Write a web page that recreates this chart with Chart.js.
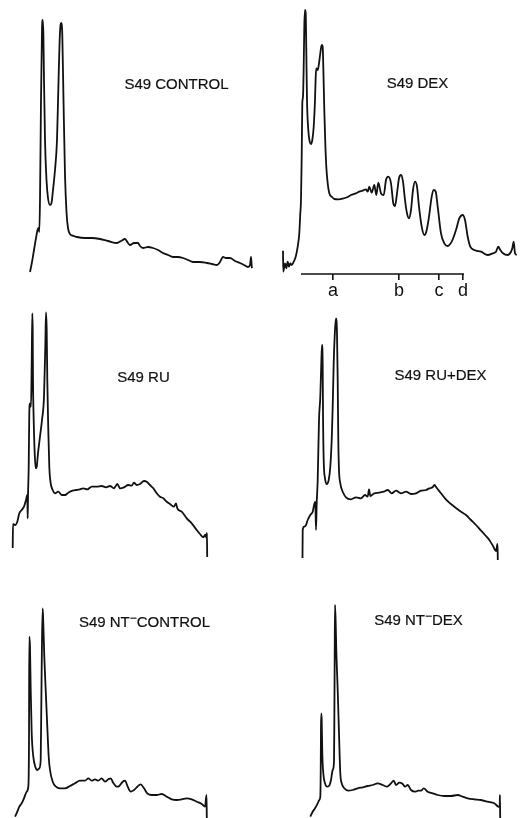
<!DOCTYPE html>
<html><head><meta charset="utf-8">
<script src="https://cdn.jsdelivr.net/npm/chart.js@4"></script>
<style>
html,body{margin:0;padding:0;background:#fff;}
#fig{position:relative;width:522px;height:818px;overflow:hidden;background:#fff;}
canvas{position:absolute;}
.lbl{position:absolute;width:220px;text-align:center;font-family:"Liberation Sans",Arial,sans-serif;font-size:15px;line-height:16px;color:#111;white-space:nowrap;-webkit-text-stroke:0.2px #111;}
.sup{position:relative;top:-5px;font-size:12px;}
</style></head><body><div id="fig"></div>
<script>
// Densitometric scans: [migration distance, absorbance] (arbitrary units)
const controlTrace = [[30,8],[32,18],[34,30],[36,42],[37.5,50],[38.5,52],[39.3,48],[40,80],[41,180],[42,250],[42.7,260],[43.4,245],[44,200],[45,140],[46.5,100],[48,82],[50,75],[51.5,77],[53,90],[55,110],[57,140],[58.3,190],[59.5,235],[60.5,255],[61.3,257],[62.3,245],[63.5,180],[65,105],[66.5,68],[68,52],[70,46],[74,44],[77,43],[85,42],[92,42],[100,41],[108,39],[117,37],[121,39],[125,41],[128,37],[130,35],[134,37],[138,37],[140,34],[143,32],[148,33],[153,32],[158,30],[163,27],[168,25],[173,23],[178,23],[183,22],[188,20],[193,18],[200,18],[207,17],[212,16],[217,15],[220,18],[223,23],[226,22],[230,22],[235,19],[240,17],[244,15],[248,13],[250,15],[251,23],[251.8,13],[252.3,12]];
const dexTrace = [[22,23.3],[22.3,2.3],[24,10.7],[25.3,5.7],[26.7,12.3],[28,7.3],[29.3,10.7],[30.7,9],[32.7,12.3],[34.7,17.3],[36.7,27.3],[38.3,40.7],[39.3,60.7],[40,74],[40.7,117.3],[41.3,170.7],[42,177.3],[42.7,207.3],[43.3,247.3],[44,264],[44.7,260.7],[45.3,224],[46,174],[47.3,144],[48.7,132.3],[50,130],[51.3,134],[52.7,147.3],[54,174],[54.7,197.3],[55.3,205.7],[56.7,204],[58,210.7],[59.3,220.7],[60.7,229],[61.7,227.3],[62.3,207.3],[63.3,164],[64.3,130.7],[65.3,107.3],[66.7,90.7],[68.3,80.7],[70.7,77.3],[73.3,75],[77.3,74.7],[81.7,75.3],[86,76.7],[90,79],[95,80.7],[98.3,82.3],[101.7,83.3],[105,84.7],[106.7,82.3],[108.3,87.3],[110.7,81.3],[113.3,89],[115.3,79],[117.3,91.3],[120,80.7],[122.7,79],[125,94],[127.3,97.3],[130,90.7],[132.3,70.7],[134,68],[136,80.7],[138,95.7],[140,99],[142,92.3],[144,74],[146,60.7],[148,55.7],[150,64],[152,84],[154,92.3],[156,87.3],[158,67.3],[160.7,47.3],[163.3,39],[165.3,42.3],[168,57.3],[170.7,77.3],[172.7,84],[174.7,82.3],[176.7,67.3],[180,40.7],[183.3,30.7],[186.7,28],[190.7,32.3],[195,44],[198.3,55.7],[201.7,59],[204,54],[206.7,37.3],[209.3,27.3],[213.3,24],[220,22.3],[226.7,19],[231.7,20.7],[235,22.3],[237.3,27.3],[239.3,24],[242,20.7],[246.7,19],[250,22.3],[251.3,25.7],[252.7,32.3],[254,20.7],[255.7,19]];
const ruTrace = [[12.7,12],[13,36],[15,35],[17.3,38.3],[19.3,46.7],[21.7,50],[24,53.3],[26,60],[27.3,65],[27.7,41.7],[28,63.3],[28.7,93.3],[29.3,146.7],[30,156.7],[31,153.3],[31.7,196.7],[32.3,246.7],[32.7,230],[33,180],[33.7,140],[34.7,106.7],[35.7,91.7],[36.7,93.3],[38,106.7],[40,123.3],[42,140],[44,163.3],[45.3,213.3],[46,247.7],[46.7,230],[47.3,180],[48.3,130],[49.3,93.3],[50.7,76.7],[52.7,70],[55,66.7],[58.3,68.3],[61.7,65],[65,65],[68.3,67.3],[72.7,69.3],[76.7,70],[80,70.7],[83.3,71.7],[87.3,70.7],[91.7,73.3],[96.7,73.3],[101.7,74],[106,72.7],[110,74],[114,71.7],[117.3,76],[120,71.7],[124,72.7],[128.3,75],[131.7,74.3],[134,77.3],[136.7,75],[140,76],[144,79],[146.7,78.3],[150,75],[153.3,71.7],[156.7,66.7],[160,63.3],[163.3,61.7],[166.7,58.3],[170,56],[174,53.3],[176,56.7],[177.3,51.7],[181.7,48.3],[186.7,41.7],[191.7,36.7],[196.7,30],[200,26],[203.3,22.7],[205.3,25.3],[206.7,21.7],[206.9,27],[207.2,3]];
const ruDexTrace = [[41.5,2],[41.7,30],[43.3,33.3],[45,35],[46.7,40],[49.3,45],[51.7,48.3],[53.3,56],[54.3,58.3],[55,30],[55.7,56.7],[56.7,80],[58,140],[59.3,163.3],[60.3,196.7],[61,215],[61.7,193.3],[62,146.7],[62.7,100],[64,81.7],[65.7,76],[67.7,80],[69.3,93.3],[70.7,120],[71.7,153.3],[72.7,196.7],[74,230],[75,241.7],[76,226.7],[76.7,180],[77.3,120],[78,90],[79.3,76.7],[81.7,68.3],[85,62.7],[90,60.7],[95,62.7],[100,61.7],[104,65],[106.7,63.3],[108,70.7],[109.3,64],[113.3,66.7],[118.3,67.3],[122.7,68.3],[126.7,70],[130.7,66.7],[135,69.3],[140,66.7],[145,68.3],[150,66],[155,66.7],[160,69.3],[165,70],[168.3,71.7],[171.7,72.7],[173.3,75],[176,71.7],[180,66.7],[184,61.7],[188.3,57.3],[193.3,53.3],[200,48.3],[205,45],[210,40],[215,35],[220,29.3],[224,25],[228.3,20],[232,14],[235,9],[236.5,16],[236.8,0]];
const ntControlTrace = [[15,1.3],[17.3,6.3],[19.3,11.3],[21.7,14.7],[24,19.7],[26.7,26.3],[28.3,31.3],[29,78],[29.3,181.3],[30,171.3],[30.7,128],[31.7,84.7],[33.3,61.3],[35.3,51.3],[37.3,48],[39.3,49.7],[40.7,58],[41.3,111.3],[42,178],[42.7,209.7],[43.3,194.7],[44.3,161.3],[45.7,128],[47.3,91.3],[48.7,61.3],[50,48],[52.7,36.3],[56,31.3],[60,29.7],[65,29.7],[70,32],[75,34.7],[80,37.3],[85,37.3],[88.3,39.7],[91.7,37.3],[95,38.7],[98.3,37.3],[101.7,39.7],[105,36.3],[108.3,38.7],[110.7,39.7],[113.3,35],[116.7,31.3],[119.3,32],[122.7,36.3],[125,37.3],[127.7,31.3],[130.7,26.3],[134,28],[137.3,31.3],[140.7,33.7],[144,29.7],[147.3,24.7],[151.7,23],[156.7,23],[161.7,24],[166.7,21.3],[171.7,18.7],[176.7,18],[181.7,18.7],[186.7,19.7],[191.7,18.7],[196.7,16.3],[201.7,14],[205,11.3],[206.5,23],[206.8,0]];
const ntDexTrace = [[49.3,1.3],[51.7,6.3],[54,9.7],[56.7,14.7],[58.3,18],[59.3,21.3],[59.7,44.7],[60,91.3],[60.3,104.7],[60.7,98],[61.3,64.7],[62.3,44.7],[64,34.7],[66,31.3],[68,32],[70,38],[71.7,48],[73,56.3],[73.3,91.3],[73.7,161.3],[74,213],[74.7,194.7],[75.3,168],[76.7,128],[78,84.7],[79.3,44.7],[80.7,34.7],[83.3,29.7],[87.3,27.3],[91.7,28],[96.7,29.7],[101.7,30.7],[106.7,32],[111.7,33],[116.7,34.7],[121.7,33],[126,31.3],[130,34.7],[132.7,37.3],[135,33],[138.3,35.3],[141.7,34],[144,31.3],[146.7,33],[150,28],[154,26.3],[157.3,27.3],[160,27.3],[162.7,29.7],[166.7,26.3],[171.7,24.7],[176.7,23],[183.3,22],[190,22],[196.7,23],[201.7,21.3],[206.7,19.7],[213.3,18.7],[220,18],[226.7,16.3],[233.3,14.7],[237.3,11.3],[238.7,11],[238.9,23],[239.2,0]];
// Marker positions (DEX panel) and their labels
const markerPos = [72, 138, 178, 202];
const markerLabels = ['a', 'b', 'c', 'd'];
const markerAxisRange = [40, 203];
const panelTitles = ['S49 CONTROL', 'S49 DEX', 'S49 RU', 'S49 RU+DEX', 'S49 NT\u207BCONTROL', 'S49 NT\u207BDEX'];

const INK = '#111';
const fig = document.getElementById('fig');
const panels = [
  {trace: controlTrace, left: 0, top: 0, w: 261, h: 280, lx: 176.5, ly: 84},
  {trace: dexTrace, left: 261, top: 0, w: 261, h: 300, area: 274, axis: true, lx: 417.5, ly: 83},
  {trace: ruTrace, left: 0, top: 290, w: 261, h: 270, lx: 143.5, ly: 377},
  {trace: ruDexTrace, left: 261, top: 290, w: 261, h: 270, lx: 440.5, ly: 375},
  {trace: ntControlTrace, left: 0, top: 560, w: 261, h: 258, lx: 144.5, ly: 622},
  {trace: ntDexTrace, left: 261, top: 560, w: 261, h: 258, lx: 418.5, ly: 620}
];

panels.forEach((p, idx) => {
  const c = document.createElement('canvas');
  c.width = p.w; c.height = p.h;
  c.style.left = p.left + 'px'; c.style.top = p.top + 'px';
  c.style.width = p.w + 'px'; c.style.height = p.h + 'px';
  fig.appendChild(c);
  const datasets = [{
    data: p.trace.map(q => ({x: q[0], y: q[1]})),
    borderColor: INK, borderWidth: 1.8, pointRadius: 0, fill: false,
    cubicInterpolationMode: 'monotone'
  }];
  const xScale = {type: 'linear', min: 0, max: p.w, display: false};
  if (p.axis) {
    datasets.push({
      data: markerAxisRange.map(v => ({x: v, y: 0})),
      borderColor: INK, borderWidth: 1.6, pointRadius: 0, fill: false, tension: 0, clip: false
    });
    Object.assign(xScale, {
      display: true,
      afterFit(s) { s.height = p.h - p.area; },
      afterBuildTicks(s) { s.ticks = markerPos.map(v => ({value: v})); },
      border: {display: false},
      grid: {display: true, drawOnChartArea: false, drawTicks: true, tickLength: 6, color: INK, lineWidth: 1.6},
      ticks: {autoSkip: false, maxRotation: 0, padding: 0, color: INK,
        font: {family: 'Liberation Sans', size: 18},
        callback: (v, i) => markerLabels[i]}
    });
  }
  new Chart(c.getContext('2d'), {
    type: 'line',
    data: {datasets},
    options: {
      responsive: false, animation: false, devicePixelRatio: 1,
      layout: {padding: 0},
      plugins: {legend: {display: false}, tooltip: {enabled: false}, title: {display: false}},
      scales: {x: xScale, y: {min: 0, max: p.area || p.h, display: false}}
    }
  });
  const d = document.createElement('div');
  d.className = 'lbl';
  d.style.left = (p.lx - 110) + 'px';
  d.style.top = (p.ly - 8) + 'px';
  const t = panelTitles[idx];
  if (t.indexOf('\u207B') >= 0) {
    const parts = t.split('\u207B');
    d.appendChild(document.createTextNode(parts[0]));
    const s = document.createElement('span'); s.className = 'sup'; s.textContent = '\u2212';
    d.appendChild(s);
    d.appendChild(document.createTextNode(parts[1]));
  } else {
    d.textContent = t;
  }
  fig.appendChild(d);
});
</script></body></html>
